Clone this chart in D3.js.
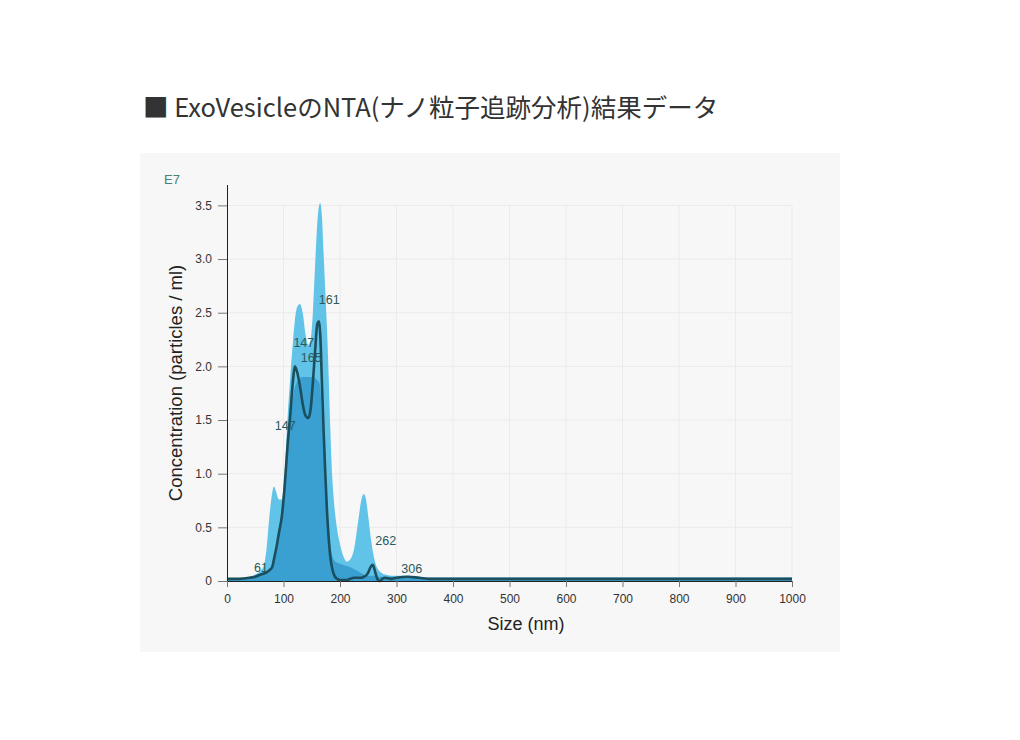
<!DOCTYPE html>
<html>
<head>
<meta charset="utf-8">
<script src="https://cdn.jsdelivr.net/npm/d3@7"></script>
<style>
   body { margin: 0; background: #fff; }
   svg { display: block; }
</style>
</head>
<body>
<svg id="chart" width="1020" height="740"></svg>
<script>
// sizes (nm) shared by the three curves
const sizesNm = [0, 20, 40, 50, 60, 65, 70, 75, 80, 83, 87, 92, 97, 102, 107, 112, 117, 120, 124, 129,
   134, 139, 144, 148, 152, 156, 160, 163, 165, 168, 171, 174, 177, 180, 183, 186, 190, 195, 200, 206,
   212, 218, 225, 232, 238, 242, 246, 250, 254, 258, 262, 266, 270, 275, 280, 290, 300, 320, 340, 360,
   400, 500, 700, 1000];

// light blue area (E7 particles / ml)
const totalConc = [0.02, 0.02, 0.04, 0.06, 0.1, 0.14, 0.3, 0.6, 0.82, 0.88, 0.83, 0.76, 0.76, 1.0, 1.5, 1.9, 2.25, 2.42, 2.55, 2.58,
   2.5, 2.3, 2.2, 2.25, 2.5, 2.95, 3.35, 3.5, 3.52, 3.4, 3.05, 2.7, 2.35, 1.9, 1.4, 1.0, 0.7, 0.48, 0.34, 0.23,
   0.18, 0.2, 0.3, 0.55, 0.76, 0.81, 0.76, 0.6, 0.42, 0.28, 0.18, 0.12, 0.09, 0.07, 0.06, 0.05, 0.05, 0.05, 0.04, 0.03,
   0.03, 0.03, 0.03, 0.03];

// darker blue area
const meanConc = [0.02, 0.02, 0.03, 0.04, 0.06, 0.07, 0.08, 0.1, 0.13, 0.19, 0.29, 0.43, 0.55, 0.86, 1.22, 1.5, 1.72, 1.8, 1.86, 1.89,
   1.9, 1.9, 1.9, 1.9, 1.9, 1.89, 1.87, 1.85, 1.8, 1.55, 1.3, 1.05, 0.75, 0.5, 0.33, 0.24, 0.19, 0.17, 0.16, 0.15,
   0.14, 0.13, 0.11, 0.09, 0.07, 0.06, 0.05, 0.05, 0.05, 0.05, 0.05, 0.04, 0.04, 0.04, 0.04, 0.04, 0.04, 0.04, 0.03, 0.03,
   0.03, 0.03, 0.03, 0.03];

// dark line
const lineConc = [0.02, 0.02, 0.03, 0.04, 0.06, 0.07, 0.08, 0.1, 0.13, 0.2, 0.3, 0.45, 0.6, 0.88, 1.25, 1.55, 1.88, 2.0, 1.95, 1.82,
   1.65, 1.54, 1.52, 1.6, 1.85, 2.15, 2.4, 2.42, 2.3, 1.85, 1.4, 1.0, 0.65, 0.4, 0.22, 0.12, 0.05, 0.02, 0.01, 0.01,
   0.01, 0.02, 0.03, 0.03, 0.03, 0.04, 0.05, 0.08, 0.13, 0.15, 0.09, 0.02, 0.0, 0.02, 0.03, 0.02, 0.03, 0.04, 0.03, 0.02,
   0.02, 0.02, 0.02, 0.02];

// peak annotations: text, anchor size (nm), anchor concentration
const peakLabels = ['61', '147', '147', '165', '161', '262', '306'];
const peakLabelSize = [60, 103, 136, 149, 181, 281, 327];
const peakLabelConc = [0.08, 1.41, 2.18, 2.04, 2.58, 0.34, 0.07];

const xTicks = [0, 100, 200, 300, 400, 500, 600, 700, 800, 900, 1000];
const yTicks = [0, 0.5, 1.0, 1.5, 2.0, 2.5, 3.0, 3.5];
const yTickLabels = ['0', '0.5', '1.0', '1.5', '2.0', '2.5', '3.0', '3.5'];

const svg = d3.select('#chart');
const sans = '"Liberation Sans", Arial, sans-serif';

//title
svg.append('text')
   .attr('x', 143)
   .attr('y', 117)
   .attr('font-family', '"Noto Sans CJK JP", "Noto Sans", sans-serif')
   .attr('font-size', 25.5)
   .attr('fill', '#333')
   .text('■ ExoVesicleのNTA(ナノ粒子追跡分析)結果データ');

//panel background
svg.append('rect')
   .attr('x', 140).attr('y', 153)
   .attr('width', 700).attr('height', 499)
   .attr('fill', '#f7f7f7');

const x = d3.scaleLinear().domain([0, 1000]).range([227, 792]);
const y = d3.scaleLinear().domain([0, 3.69]).range([581, 185]);

const g = svg.append('g');

//grid
g.selectAll('.vgrid')
   .data(xTicks.slice(1))
   .join('line')
   .attr('x1', d => x(d)).attr('x2', d => x(d))
   .attr('y1', y(3.5)).attr('y2', y(0))
   .attr('stroke', '#ebebeb');
g.selectAll('.hgrid')
   .data(yTicks.slice(1))
   .join('line')
   .attr('x1', x(0)).attr('x2', x(1000))
   .attr('y1', d => y(d)).attr('y2', d => y(d))
   .attr('stroke', '#ebebeb');

const pts = (vals) => sizesNm.map((s, i) => [s, vals[i]]);
const curve = d3.curveMonotoneX;

const area = d3.area()
   .x(d => x(d[0]))
   .y0(y(0))
   .y1(d => y(d[1]))
   .curve(curve);

const line = d3.line()
   .x(d => x(d[0]))
   .y(d => y(d[1]))
   .curve(curve);

g.append('path')
   .attr('d', area(pts(totalConc)))
   .attr('fill', '#62c3e9');

g.append('path')
   .attr('d', area(pts(meanConc)))
   .attr('fill', '#3a9fd1');

g.append('path')
   .attr('d', line(pts(lineConc)))
   .attr('fill', 'none')
   .attr('stroke', '#1b4f5e')
   .attr('stroke-width', 2.6)
   .attr('stroke-linejoin', 'round');

//peak labels
g.selectAll('.peak')
   .data(peakLabels)
   .join('text')
   .attr('x', (d, i) => x(peakLabelSize[i]))
   .attr('y', (d, i) => y(peakLabelConc[i]))
   .attr('text-anchor', 'middle')
   .attr('font-family', sans)
   .attr('font-size', 12.5)
   .attr('fill', '#275a5c')
   .text(d => d);

//axes
const xAxis = d3.axisBottom(x)
   .tickValues(xTicks)
   .tickSize(6)
   .tickPadding(7)
   .tickFormat(d3.format('d'));
const gx = svg.append('g')
   .attr('transform', `translate(0,${y(0)})`)
   .call(xAxis);
gx.select('.domain').attr('d', `M218,0.5H${x(1000)}`).attr('stroke', '#222');

const yAxis = d3.axisLeft(y)
   .tickValues(yTicks)
   .tickSize(9)
   .tickPadding(6)
   .tickFormat((d, i) => yTickLabels[i]);
const gy = svg.append('g')
   .attr('transform', `translate(${x(0)},0)`)
   .call(yAxis);
gy.select('.domain').attr('d', `M0.5,185V${y(0)}`).attr('stroke', '#222');

[gx, gy].forEach(a => {
   a.selectAll('.tick line').attr('stroke', '#777');
   a.selectAll('.tick text')
      .attr('font-family', sans)
      .attr('font-size', 12)
      .attr('fill', '#333');
});

//axis titles
svg.append('text')
   .attr('x', 526).attr('y', 630)
   .attr('text-anchor', 'middle')
   .attr('font-family', sans)
   .attr('font-size', 18)
   .attr('fill', '#222')
   .text('Size (nm)');

svg.append('text')
   .attr('transform', 'translate(182,383) rotate(-90)')
   .attr('text-anchor', 'middle')
   .attr('font-family', sans)
   .attr('font-size', 18.5)
   .attr('fill', '#222')
   .text('Concentration (particles / ml)');

svg.append('text')
   .attr('x', 164).attr('y', 184)
   .attr('font-family', sans)
   .attr('font-size', 13)
   .attr('fill', '#4a8078')
   .text('E7');
</script>
</body>
</html>
